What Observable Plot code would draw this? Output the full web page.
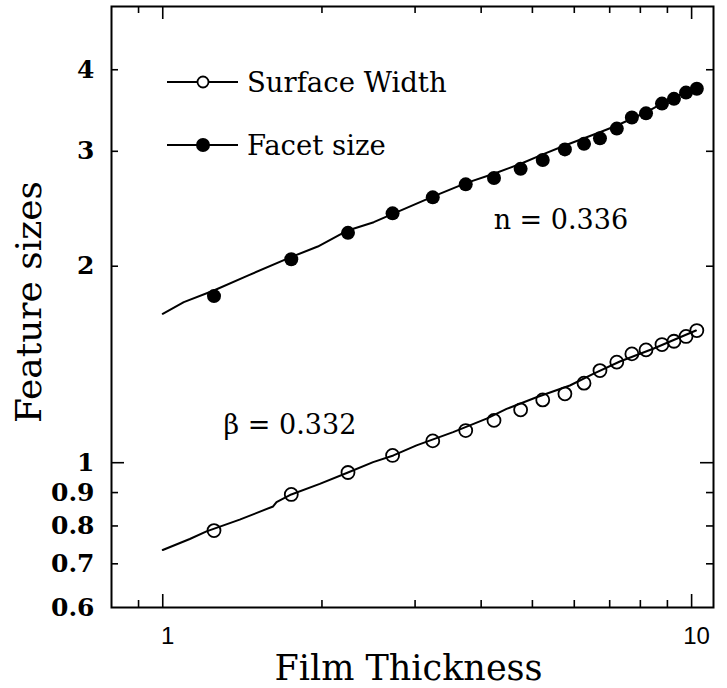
<!DOCTYPE html>
<html><head><meta charset="utf-8">
<script src="https://cdn.jsdelivr.net/npm/d3@7"></script>
<script src="https://cdn.jsdelivr.net/npm/@observablehq/plot@0.6"></script>
<style>body{margin:0;background:#fff}</style>
</head><body><div id="chart"></div>
<script>
// Measured points (film thickness vs feature sizes)
const thickness = [1.25,1.75,2.24,2.72,3.24,3.74,4.23,4.75,5.23,5.76,6.26,6.71,7.22,7.71,8.2,8.79,9.26,9.76,10.23];
const facetSize = [1.80,2.05,2.25,2.41,2.55,2.67,2.73,2.82,2.91,3.02,3.08,3.14,3.25,3.38,3.43,3.55,3.61,3.69,3.74];
const surfaceWidth = [0.787,0.894,0.966,1.026,1.080,1.120,1.161,1.205,1.248,1.275,1.324,1.384,1.426,1.468,1.489,1.517,1.535,1.561,1.594];

// Fitted curves
const facetFitX = [1.0,1.096,1.249,1.448,1.747,1.964,2.238,2.506,2.723,3.241,3.742,4.227,4.754,5.232,5.758,6.708,7.224,8.195,9.259,10.23];
const facetFitY = [1.691,1.762,1.836,1.935,2.065,2.144,2.269,2.336,2.406,2.557,2.681,2.771,2.871,2.967,3.062,3.209,3.286,3.443,3.631,3.753];
const surfaceFitX = [1.0,1.125,1.210,1.398,1.617,1.641,1.75,1.981,2.234,2.499,2.73,3.019,3.540,4.096,4.468,5.091,5.886,6.515,7.317,8.459,10.19];
const surfaceFitY = [0.735,0.764,0.785,0.818,0.857,0.870,0.894,0.928,0.965,1.002,1.026,1.063,1.114,1.168,1.209,1.260,1.313,1.368,1.429,1.495,1.594];

// Ticks and labels
const xMajorTicks = [1, 10];
const xMinorTicks = [0.9, 2, 3, 4, 5, 6, 7, 8, 9];
const yMajorTicks = [1];
const yMinorTicks = [0.7, 0.8, 0.9, 2, 3, 4];
const xTickLabels = [1, 10];
const yTickLabels = [0.6, 0.7, 0.8, 0.9, 1, 2, 3, 4];
const seriesNames = ["Surface Width", "Facet size"];
const annotations = [
  {x: 5.66, y: 2.35, text: "n = 0.336"},
  {x: 1.74, y: 1.14, text: "β = 0.332"}
];

const facetPts = thickness.map((t, i) => ({x: t, y: facetSize[i]}));
const surfPts = thickness.map((t, i) => ({x: t, y: surfaceWidth[i]}));
const facetFit = facetFitX.map((t, i) => ({x: t, y: facetFitY[i]}));
const surfFit = surfaceFitX.map((t, i) => ({x: t, y: surfaceFitY[i]}));

const W = 727, H = 688, mL = 111, mR = 14, mT = 6, mB = 81;
const iw = W - mL - mR, ih = H - mT - mB;
const serif = "DejaVu Serif";
const major = 13, minor = 7;

const chart = Plot.plot({
  width: W, height: H,
  marginLeft: mL, marginRight: mR, marginTop: mT, marginBottom: mB,
  style: {background: "#fff", fontFamily: serif, color: "#000"},
  x: {type: "log", domain: [0.8, 11], axis: null},
  y: {type: "log", domain: [0.6, 5], axis: null},
  marks: [
    // bottom / top ticks (inward)
    Plot.ruleX(xMajorTicks, {x: d => d, insetTop: ih - major, strokeWidth: 1.6}),
    Plot.ruleX(xMinorTicks, {x: d => d, insetTop: ih - minor, strokeWidth: 1.6}),
    Plot.ruleX(xMajorTicks, {x: d => d, insetBottom: ih - major, strokeWidth: 1.6}),
    Plot.ruleX(xMinorTicks, {x: d => d, insetBottom: ih - minor, strokeWidth: 1.6}),
    // left / right ticks (inward)
    Plot.ruleY(yMajorTicks, {y: d => d, insetRight: iw - major, strokeWidth: 1.6}),
    Plot.ruleY(yMinorTicks, {y: d => d, insetRight: iw - minor, strokeWidth: 1.6}),
    Plot.ruleY(yMajorTicks, {y: d => d, insetLeft: iw - major, strokeWidth: 1.6}),
    Plot.ruleY(yMinorTicks, {y: d => d, insetLeft: iw - minor, strokeWidth: 1.6}),
    Plot.frame({stroke: "#000", strokeWidth: 2}),
    // tick labels
    Plot.text(yTickLabels, {y: d => d, text: d => String(d), frameAnchor: "left", textAnchor: "end", lineAnchor: "middle", dx: -17, fontSize: 25, fontWeight: "bold", fontFamily: serif}),
    Plot.text(xTickLabels, {x: d => d, text: d => String(d), frameAnchor: "bottom", textAnchor: "middle", lineAnchor: "bottom", dy: 36, dx: 5, fontSize: 24, fontFamily: "Liberation Sans"}),
    // axis titles
    Plot.text(["Film Thickness"], {frameAnchor: "bottom", textAnchor: "middle", lineAnchor: "bottom", dy: 72, dx: -4, fontSize: 35, fontFamily: serif}),
    Plot.text(["Feature sizes"], {frameAnchor: "left", textAnchor: "middle", lineAnchor: "middle", rotate: -90, dx: -82, dy: -5, fontSize: 36, fontFamily: serif}),
    // fitted curves
    Plot.line(facetFit, {x: "x", y: "y", stroke: "#000", strokeWidth: 2}),
    Plot.line(surfFit, {x: "x", y: "y", stroke: "#000", strokeWidth: 2}),
    // data
    Plot.dot(facetPts, {x: "x", y: "y", r: 7, fill: "#000", stroke: "none"}),
    Plot.dot(surfPts, {x: "x", y: "y", r: 6.5, fill: "none", stroke: "#000", strokeWidth: 1.8}),
    // annotations
    Plot.text(annotations, {x: "x", y: "y", text: "text", fontSize: 27, fontFamily: serif})
  ]
});

// legend
const svg = d3.select(chart);
const leg = svg.append("g").attr("text-anchor", "start");
const rows = [{name: seriesNames[0], y: 82, filled: false}, {name: seriesNames[1], y: 145, filled: true}];
rows.forEach(r => {
  leg.append("line").attr("x1", 167).attr("x2", 238).attr("y1", r.y).attr("y2", r.y).attr("stroke", "#000").attr("stroke-width", 2);
  leg.append("circle").attr("cx", 203).attr("cy", r.y).attr("r", r.filled ? 7 : 5.5)
    .attr("fill", r.filled ? "#000" : "#fff").attr("stroke", "#000").attr("stroke-width", r.filled ? 0 : 1.8);
  leg.append("text").attr("x", 247).attr("y", r.y).attr("dy", "0.35em").attr("text-anchor", "start")
    .attr("font-family", serif).attr("font-size", 27.5).attr("fill", "#000").text(r.name);
});

document.getElementById("chart").appendChild(chart);
</script>
</body></html>
